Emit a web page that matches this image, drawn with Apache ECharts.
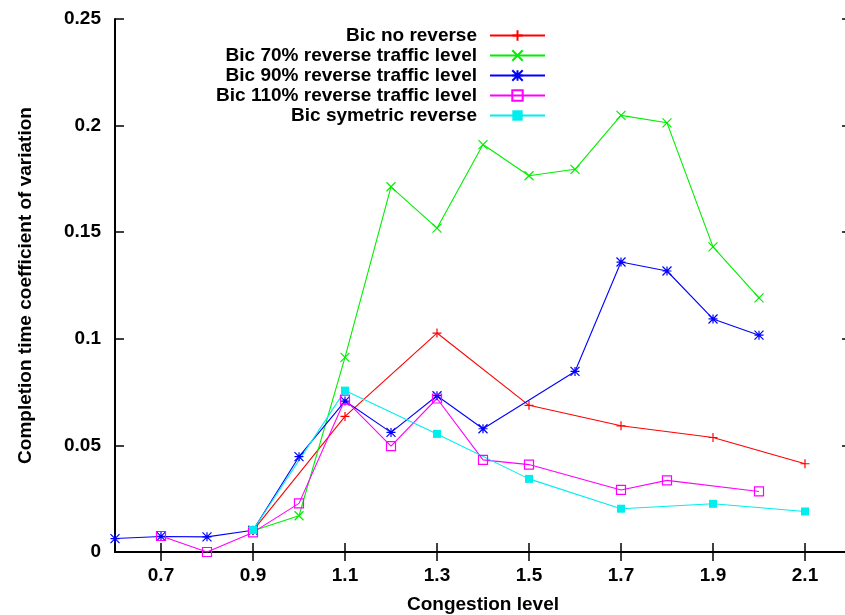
<!DOCTYPE html>
<html>
<head>
<meta charset="utf-8">
<script src="https://cdn.jsdelivr.net/npm/echarts@6/dist/echarts.min.js"></script>
<style>html,body{margin:0;padding:0;background:#fff}#c{width:845px;height:615px}</style>
</head>
<body>
<div id="c"></div>
<script>
// ---- data ----
const seriesNames = ['Bic no reverse','Bic 70% reverse traffic level','Bic 90% reverse traffic level','Bic 110% reverse traffic level','Bic symetric reverse'];
const xNoRev = [0.9,1.1,1.3,1.5,1.7,1.9,2.1];
const yNoRev = [0.0100,0.0636,0.1027,0.0688,0.0592,0.0537,0.0414];
const x70 = [0.9,1.0,1.1,1.2,1.3,1.4,1.5,1.6,1.7,1.8,1.9,2.0];
const y70 = [0.0100,0.0170,0.0913,0.1713,0.1519,0.1911,0.1765,0.1795,0.2048,0.2013,0.1431,0.1192];
const x90 = [0.6,0.7,0.8,0.9,1.0,1.1,1.2,1.3,1.4,1.6,1.7,1.8,1.9,2.0];
const y90 = [0.0063,0.0073,0.0071,0.0102,0.0447,0.0708,0.0561,0.0733,0.0578,0.0847,0.1360,0.1318,0.1093,0.1017];
const x110 = [0.7,0.8,0.9,1.0,1.1,1.2,1.3,1.4,1.5,1.7,1.8,2.0];
const y110 = [0.0075,0.0000,0.0092,0.0228,0.0715,0.0497,0.0720,0.0432,0.0410,0.0291,0.0336,0.0284];
const xSym = [0.9,1.1,1.3,1.5,1.7,1.9,2.1];
const ySym = [0.0103,0.0757,0.0554,0.0343,0.0203,0.0226,0.0190];
const xTickLabels = [0.7,0.9,1.1,1.3,1.5,1.7,1.9,2.1];
const yTickLabels = [0,0.05,0.1,0.15,0.2,0.25];

// ---- styles ----
const colors = ['#ff0000','#00ee00','#0000ff','#ff00ff','#00eeee'];
const symbols = [
  'path://M0,5L10,5M5,0L5,10',
  'path://M0,0L10,10M0,10L10,0',
  'path://M0,5L10,5M5,0L5,10M0,0L10,10M0,10L10,0',
  'path://M0,0L10,0L10,10L0,10Z',
  'rect'
];
const xs = [xNoRev,x70,x90,x110,xSym];
const ys = [yNoRev,y70,y90,y110,ySym];
const FONT = 'Liberation Sans, Arial, Helvetica, sans-serif';

const series = seriesNames.map((name,i)=>({
  name, type:'line',
  data: xs[i].map((x,k)=>[x, ys[i][k]]),
  symbol: symbols[i],
  symbolSize: i===4 ? 8 : 9,
  clip:false,
  lineStyle:{color:colors[i], width:1.1},
  itemStyle: i===4 ? {color:colors[i]} :
             {color: i===3 ? 'rgba(0,0,0,0)' : colors[i], borderColor:colors[i], borderWidth:1.2},
  emphasis:{disabled:true}
}));

const legends = seriesNames.map((name,i)=>({
  data:[name], orient:'vertical', align:'right', right:299, top:26+20*i, padding:0,
  itemWidth:55, itemHeight:13, selectedMode:false,
  textStyle:{fontFamily:FONT, fontSize:19, fontWeight:'bold', color:'#000', padding:[0,8,0,0]}
}));

const axisLine = {show:true, lineStyle:{color:'#000', width:2}};
const tick = {show:true, inside:true, length:9, lineStyle:{color:'#000', width:1.5}};

const option = {
  animation:false,
  backgroundColor:'#fff',
  grid:{left:115, top:19, width:736, height:533, containLabel:false, outerBoundsMode:'none'},
  legend: legends,
  xAxis:[
    {type:'value', min:0.6, max:2.2, position:'bottom', axisLine,
     axisTick:Object.assign({}, tick, {customValues:xTickLabels}),
     axisLabel:{customValues:xTickLabels, margin:14, fontFamily:FONT, fontSize:19, fontWeight:'bold', color:'#000'},
     splitLine:{show:false},
     name:'Congestion level', nameLocation:'middle', nameGap:43,
     nameTextStyle:{fontFamily:FONT, fontSize:19, fontWeight:'bold', color:'#000'}},
    {type:'value', min:0.6, max:2.2, position:'top', axisLine,
     axisTick:Object.assign({}, tick, {customValues:xTickLabels}),
     axisLabel:{show:false}, splitLine:{show:false}}
  ],
  yAxis:[
    {type:'value', min:0, max:0.25, interval:0.05, position:'left', axisLine,
     axisTick:tick,
     axisLabel:{margin:14, fontFamily:FONT, fontSize:19, fontWeight:'bold', color:'#000'},
     splitLine:{show:false},
     name:'Completion time coefficient of variation', nameLocation:'middle', nameGap:80,
     nameTextStyle:{fontFamily:FONT, fontSize:19, fontWeight:'bold', color:'#000'}},
    {type:'value', min:0, max:0.25, interval:0.05, position:'right', axisLine,
     axisTick:tick, axisLabel:{show:false}, splitLine:{show:false}}
  ],
  series
};
const chart = echarts.init(document.getElementById('c'), null, {renderer:'canvas'});
chart.setOption(option);
</script>
</body>
</html>
